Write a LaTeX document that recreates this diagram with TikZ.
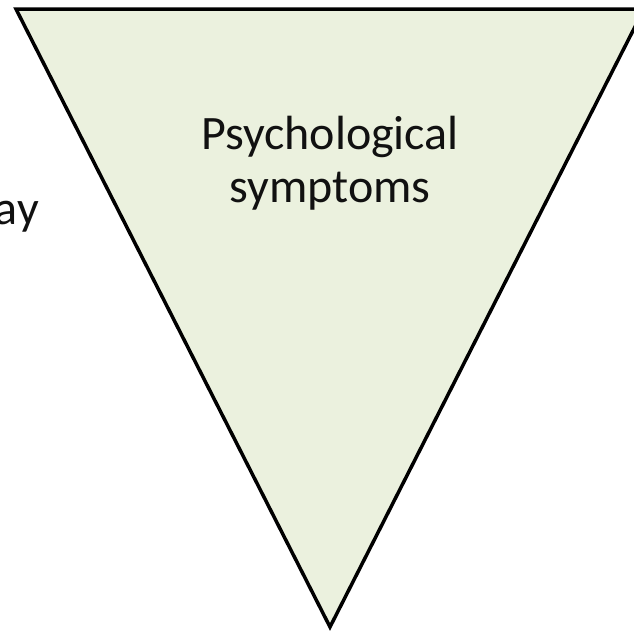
\documentclass[tikz,border=0pt]{standalone}
\usepackage{fontspec}
\setmainfont{Carlito}
\definecolor{olive}{HTML}{EBF1DE}
\definecolor{ink}{HTML}{111111}

\begin{document}
\begin{tikzpicture}[
  x=1pt, y=-1pt,
  funnel/.style={draw=black, fill=olive, line width=3.5pt, line join=miter},
  bigtext/.style={font=\fontsize{48}{53}\selectfont, text=ink, align=center, inner sep=0pt}
]
\useasboundingbox (0,0) rectangle (634,640);
\clip (0,0) rectangle (634,640);
\coordinate (tl) at (16,9);
\coordinate (tr) at (644,9);
\coordinate (tip) at (330,627);
\filldraw[funnel] (tl) -- (tr) -- (tip) -- cycle;
% last line sits on the base anchor
\node[bigtext, anchor=base] (symp) at (330,202) {Psychological\\symptoms};
\node[bigtext, anchor=base east] (cut) at (39,224) {ay};
\end{tikzpicture}
\end{document}
